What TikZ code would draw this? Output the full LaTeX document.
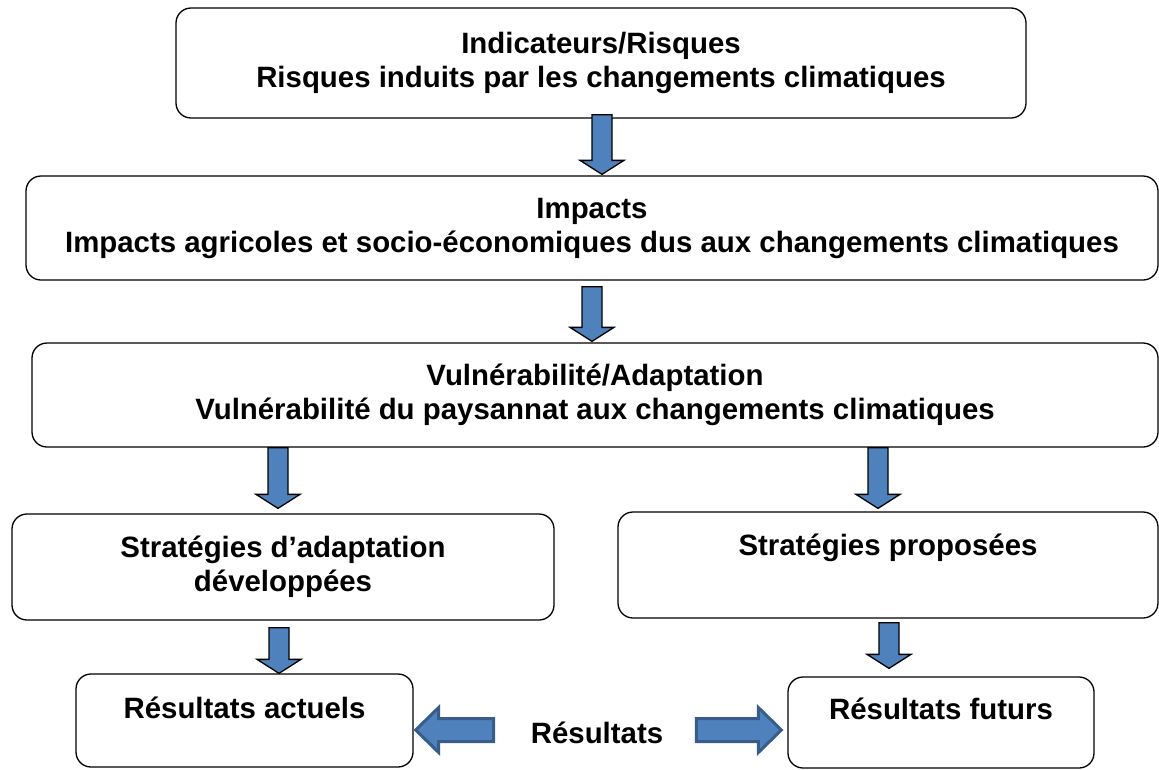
\documentclass[tikz,border=0pt]{standalone}
\usepackage{fontspec}
\setmainfont{Liberation Sans}
\usepackage{tikz}
\usetikzlibrary{calc}
\definecolor{bleuA}{HTML}{4F81BD}
\definecolor{bleuF}{HTML}{385D8A}
\tikzset{
	boite/.style={draw, rounded corners=15pt, line width=1.3pt, inner sep=0pt, align=center, font=\bfseries\fontsize{29.4pt}{34pt}\selectfont},
	flecheV/.style={fill=bleuA, draw=black, line width=1.3pt},
	flecheH/.style={fill=bleuA, draw=bleuF, line width=3pt}
}
\newcommand{\descente}[3]{
	\draw[flecheV]let\p1=(#2),\p2=(#3),\p3=($(0pt,\y2)!14pt!(0pt,\y1)$)in(#1pt-10pt,\y1)--(#1pt+10pt,\y1)--(#1pt+10pt,\y3)--(#1pt+22pt,\y3)--(#1pt,\y2)--(#1pt-22pt,\y3)--(#1pt-10pt,\y3)--cycle
}
\newcommand{\lateral}[3]{
	\draw[flecheH]let\p1=(#2),\p2=(#3),\p3=($(\x2,0pt)!23pt!(\x1,0pt)$)in(\x1,-#1pt+11.5pt)--(\x3,-#1pt+11.5pt)--(\x3,-#1pt+22.5pt)--(\x2,-#1pt)--(\x3,-#1pt-22.5pt)--(\x3,-#1pt-11.5pt)--(\x1,-#1pt-11.5pt)--cycle
}

\begin{document}
\begin{tikzpicture}[x=1pt, y=-1pt]
		\useasboundingbox(0,0)rectangle(1159,769);
		\node[boite, minimum width=850pt, minimum height=110pt](risques)at(601,63){Indicateurs/Risques\\Risques induits par les changements climatiques};
		\node[boite, minimum width=1132pt, minimum height=104pt](impacts)at(592,228){Impacts\\Impacts agricoles et socio-économiques dus aux changements climatiques};
		\node[boite, minimum width=1126pt, minimum height=104pt](vulnerabilite)at(595,395){Vulnérabilité/Adaptation\\Vulnérabilité du paysannat aux changements climatiques};
		\node[boite, minimum width=542pt, minimum height=106pt](developpees)at(283,567){Stratégies d’adaptation\\développées};
		\node[boite, minimum width=540pt, minimum height=106pt, text height=21pt, text depth=41pt](proposees)at(888,565){Stratégies proposées};
		\node[boite, minimum width=337pt, minimum height=93pt, text height=21pt, text depth=26pt](actuels)at(244.5,720.5){Résultats actuels};
		\node[boite, minimum width=306pt, minimum height=91pt, text height=21pt, text depth=28pt](futurs)at(941,722.5){Résultats futurs};
		\node[font=\bfseries\fontsize{29.4pt}{34pt}\selectfont, inner sep=0pt, anchor=base](resultats)at(597,743){Résultats};
		\descente{602}{[yshift=4pt]risques.south}{[yshift=1pt]impacts.north};
		\descente{592}{[yshift=-6pt]impacts.south}{[yshift=1pt]vulnerabilite.north};
		\descente{278}{vulnerabilite.south}{[yshift=5pt]developpees.north};
		\descente{878}{vulnerabilite.south}{[yshift=3pt]proposees.north};
		\descente{279}{[yshift=-7pt]developpees.south}{actuels.north};
		\descente{889}{[yshift=-4pt]proposees.south}{[yshift=8pt]futurs.north};
		\lateral{730}{[xshift=-37pt]resultats.west}{[xshift=2pt]actuels.east};
		\lateral{730}{[xshift=33pt]resultats.east}{[xshift=-6pt]futurs.west};
	\end{tikzpicture}
\end{document}
